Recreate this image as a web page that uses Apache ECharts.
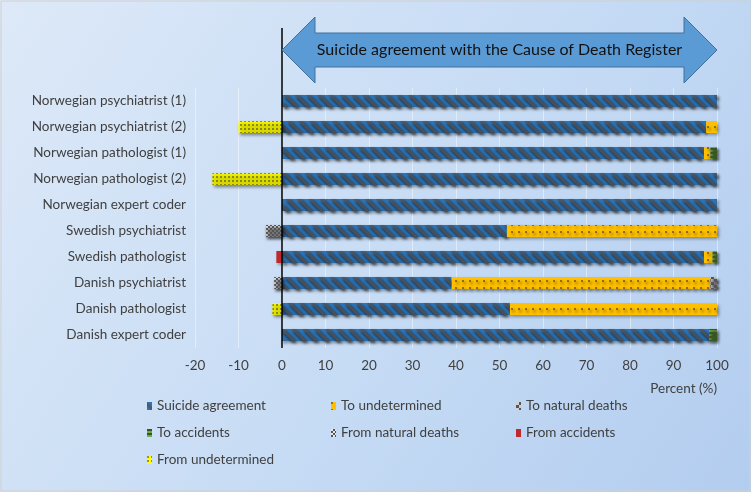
<!DOCTYPE html>
<html><head><meta charset="utf-8">
<script src="https://cdn.jsdelivr.net/npm/echarts@6/dist/echarts.min.js"></script>
<style>html,body{margin:0;padding:0;background:#fff}#c{width:751px;height:492px}</style>
</head><body><div id="c"></div>
<script>
const categories = ['Norwegian psychiatrist (1)','Norwegian psychiatrist (2)','Norwegian pathologist (1)','Norwegian pathologist (2)','Norwegian expert coder','Swedish psychiatrist','Swedish pathologist','Danish psychiatrist','Danish pathologist','Danish expert coder'];
const suicideAgreement = [100, 97.5, 97, 100, 100, 51.7, 97, 39, 52.4, 98.2];
const toUndetermined   = [0, 2.5, 1.5, 0, 0, 48.3, 2, 59.5, 47.6, 0];
const toNaturalDeaths  = [0, 0, 0, 0, 0, 0, 0, 1.5, 0, 0];
const toAccidents      = [0, 0, 1.5, 0, 0, 0, 1, 0, 0, 1.8];
const fromNaturalDeaths= [0, 0, 0, 0, 0, -3.7, 0, -1.8, 0, 0];
const fromAccidents    = [0, 0, 0, 0, 0, 0, -1.3, 0, 0, 0];
const fromUndetermined = [0, -10, 0, -16, 0, 0, 0, 0, -2.2, 0];

const FONT = 'Lato, "Open Sans", sans-serif';
const shadow = {shadowColor:'rgba(0,0,0,0.35)', shadowBlur:3, shadowOffsetX:1.5, shadowOffsetY:2};
function nz(a){return a.map(v => v === 0 ? null : v);}
function mk(name, data, color, decal){
  return {name, type:'bar', stack:'s', data:nz(data), barWidth:12,
    itemStyle:Object.assign({color, decal}, shadow)};
}
const series = [
  mk('Suicide agreement', suicideAgreement, '#2e75b6', {symbol:'rect', dashArrayX:[1,0], dashArrayY:[3,5], rotation:Math.PI/4, color:'rgba(85,85,90,0.8)'}),
  mk('To undetermined', toUndetermined, '#ffc000', {symbol:'circle', symbolSize:1, dashArrayX:[1.6,5], dashArrayY:[1.6,5], color:'rgba(70,60,40,0.8)'}),
  mk('To natural deaths', toNaturalDeaths, '#d0d0d0', {symbol:'rect', dashArrayX:[[3,3],[0,3,3,0]], dashArrayY:[3,0], color:'#555'}),
  mk('To accidents', toAccidents, '#70ad47', {symbol:'rect', dashArrayX:[1,0], dashArrayY:[1.5,1.5], color:'#375623'}),
  mk('From natural deaths', fromNaturalDeaths, '#e8e8e8', {symbol:'rect', dashArrayX:[[2,2],[0,2,2,0]], dashArrayY:[2,0], color:'#555'}),
  mk('From accidents', fromAccidents, '#c0282d', null),
  mk('From undetermined', fromUndetermined, '#ffff00', {symbol:'circle', symbolSize:1, dashArrayX:[1.4,1.6], dashArrayY:[1.4,1.6], color:'rgba(80,80,40,0.8)'})
];
const legendPos = [[147,399],[331,399],[516,399],[147,426],[331,426],[516,426],[147,453]];
const legends = series.map((s,i)=>({data:[s.name], left:legendPos[i][0], top:legendPos[i][1], padding:0, itemWidth:5, itemHeight:8, itemGap:0,
  textStyle:{color:'#404040', fontSize:13.5, fontFamily:FONT}, selectedMode:false, icon:'rect'}));

const chart = echarts.init(document.getElementById('c'));
chart.setOption({
  animation:false,
  backgroundColor:{type:'linear', x:0, y:0, x2:1, y2:1, colorStops:[{offset:0,color:'#dde9f8'},{offset:0.6,color:'#c4daf4'},{offset:1,color:'#b3cdef'}]},
  grid:{left:195, right:34, top:88, bottom:144},
  legend:legends,
  xAxis:{type:'value', min:-20, max:100, interval:10,
    name:'Percent (%)', nameLocation:'end', nameGap:0,
    nameTextStyle:{color:'#404040', fontSize:13.5, fontFamily:FONT, align:'right', verticalAlign:'top', padding:[34,0,0,0]},
    axisLine:{show:false}, axisTick:{show:false},
    axisLabel:{color:'#404040', fontSize:13.5, fontFamily:FONT, margin:11, formatter:v=>String(v)},
    splitLine:{show:true, lineStyle:{color:'rgba(255,255,255,0.45)', width:1}}},
  yAxis:{type:'category', data:categories, inverse:true,
    axisLine:{show:false}, axisTick:{show:false},
    axisLabel:{color:'#404040', fontSize:13.5, fontFamily:FONT, margin:9}},
  series
});
const x0 = chart.convertToPixel({xAxisIndex:0}, 0);
const x100 = chart.convertToPixel({xAxisIndex:0}, 100);
const yc = 50, hb = 33, ht = 17;
chart.setOption({graphic:[
  {type:'rect', shape:{x:1, y:1, width:749, height:490}, style:{fill:'none', stroke:'#d0d0d0', lineWidth:1}, silent:true},
  {type:'line', shape:{x1:x0, y1:28, x2:x0, y2:348}, style:{stroke:'#000', lineWidth:1.5}, z:10},
  {type:'polygon', z:11, shape:{points:[[x0,yc],[x0+33,ht],[x0+33,hb],[x100-33,hb],[x100-33,ht],[x100,yc],[x100-33,83],[x100-33,67],[x0+33,67],[x0+33,83]]},
    style:{fill:'#5b9bd5', stroke:'#41719c', lineWidth:1}},
  {type:'text', z:12, x:(x0+x100)/2, y:yc, style:{text:'Suicide agreement with the Cause of Death Register', fill:'#111', fontSize:16, fontFamily:FONT, align:'center', verticalAlign:'middle'}}
]});
</script></body></html>
